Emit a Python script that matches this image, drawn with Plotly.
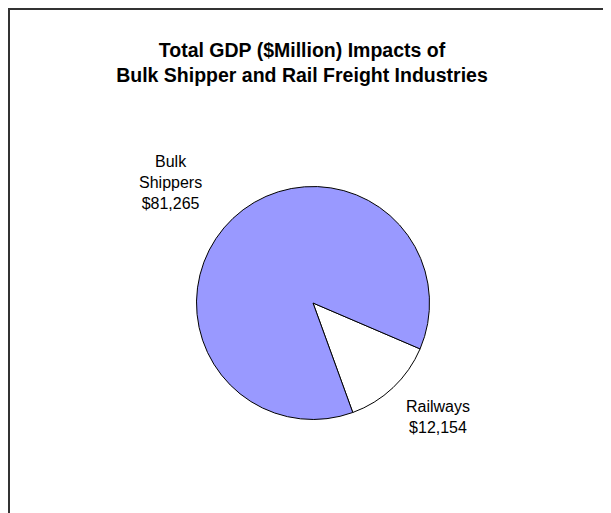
import plotly.graph_objects as go

categories = ["Railways", "Bulk Shippers"]
label_lines = ["Railways", "Bulk<br>Shippers"]
values = [12154, 81265]
colors = ["#FFFFFF", "#9999FF"]

W, H = 611, 513
OFF = 8  # page body margin

cx, cy, r = 313 - OFF, 303 - OFF, 116.5

fig = go.Figure(go.Pie(
    labels=categories,
    values=values,
    sort=False,
    direction="clockwise",
    rotation=113.2,
    marker=dict(colors=colors, line=dict(color="#000000", width=1)),
    textinfo="none",
    hoverinfo="label+value",
    showlegend=False,
    domain=dict(x=[(cx - r) / W, (cx + r) / W], y=[(H - cy - r) / H, (H - cy + r) / H]),
))

label_pos = {"Railways": (438 - OFF, 417 - OFF), "Bulk Shippers": (170 - OFF, 182 - OFF)}
for name, lab, v in zip(categories, label_lines, values):
    px, py = label_pos[name]
    fig.add_annotation(
        x=px / W, y=1 - py / H, xref="paper", yref="paper",
        text=f"{lab}<br>${v:,}", showarrow=False,
        font=dict(family="Liberation Sans, Arial", size=16, color="#000000"),
        align="center", xanchor="center", yanchor="middle",
    )

fig.add_shape(type="rect", xref="paper", yref="paper",
              x0=1 / W, x1=1.05, y0=-0.05, y1=1 - 1 / H,
              line=dict(color="#333333", width=2), fillcolor="rgba(0,0,0,0)")

fig.update_layout(
    width=W, height=H,
    margin=dict(l=0, r=0, t=0, b=0),
    paper_bgcolor="#FFFFFF", plot_bgcolor="#FFFFFF",
    title=dict(
        text="<b>Total GDP ($Million) Impacts of<br>Bulk Shipper and Rail Freight Industries</b>",
        x=(302 - OFF) / W, xanchor="center", y=1 - 49 / H, yanchor="middle", yref="container",
        font=dict(family="Liberation Sans, Arial", size=19.5, color="#000000"),
    ),
)

fig.write_html("out.html")
